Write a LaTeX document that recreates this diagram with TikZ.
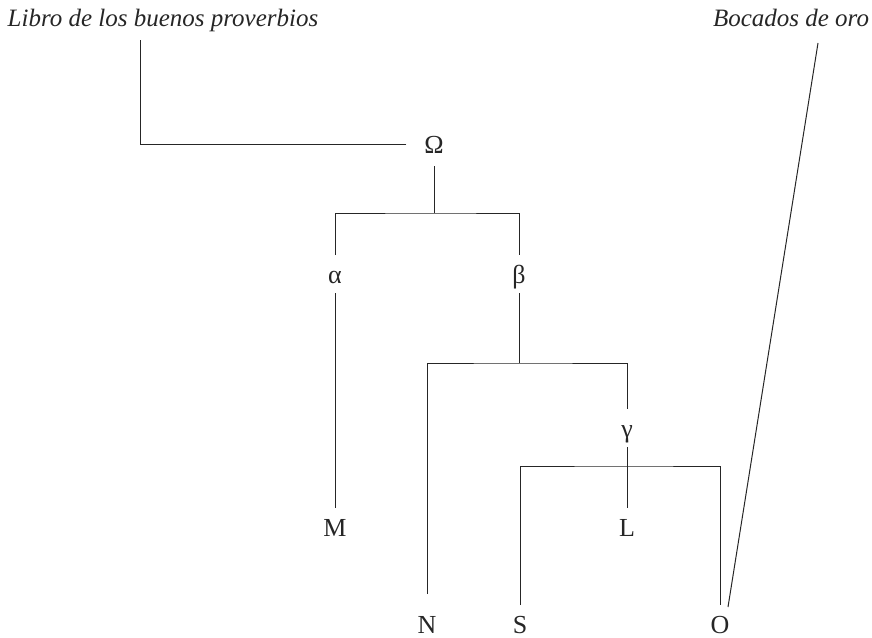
\documentclass[tikz,border=0pt]{standalone}
\usepackage{fontspec}
\setmainfont{Liberation Serif}
\begin{document}
\begin{tikzpicture}[x=1pt,y=-1pt,
  lab/.style={font=\fontsize{26}{26}\selectfont, text=black!85, inner sep=0pt, outer sep=10pt, text height=18pt, text depth=0pt, anchor=base},
  ttl/.style={font=\fontsize{25}{25}\selectfont\itshape, text=black!85, inner sep=0pt, anchor=base},
  ln/.style={line width=1pt, draw=black!85}]
\useasboundingbox (0,0) rectangle (872,637);
\node[ttl] (libro) at (163,26) {Libro de los buenos proverbios};
\node[ttl] (bocados) at (791,26) {Bocados de oro};
\node[lab] (Om) at (434,153) {Ω};
\node[lab] (al) at (335,283) {α};
\node[lab] (be) at (519,283) {β};
\node[lab] (ga) at (627,437) {γ};
\node[lab] (M) at (335,536) {M};
\node[lab] (L) at (627,536) {L};
\node[lab] (N) at (427,633) {N};
\node[lab] (S) at (520,633) {S};
\node[lab] (O) at (720,633) {O};
\coordinate (jOm) at (434,213);
\coordinate (jBe) at (519,363);
\coordinate (jGa) at (627,466);
\coordinate (lt) at (140,40);
\coordinate (bt) at (818,43);
\draw[ln] ([xshift=-8pt]Om.west) -| (lt);
\draw[ln] ([yshift=-3pt]Om.south) -- (jOm);
\draw[ln] (al.north) |- (jOm) -| (be.north);
\draw[ln] (al.south) -- (M.north);
\draw[ln] (be.south) -- (jBe);
\draw[ln] ([yshift=11pt]N.north) |- (jBe) -| (ga.north);
\draw[ln] (ga.south) -- (L.north);
\draw[ln] (S.north) |- (jGa) -| (O.north);
\draw[ln] ([xshift=8pt,yshift=-2pt]O.north) -- (bt);
\end{tikzpicture}
\end{document}
